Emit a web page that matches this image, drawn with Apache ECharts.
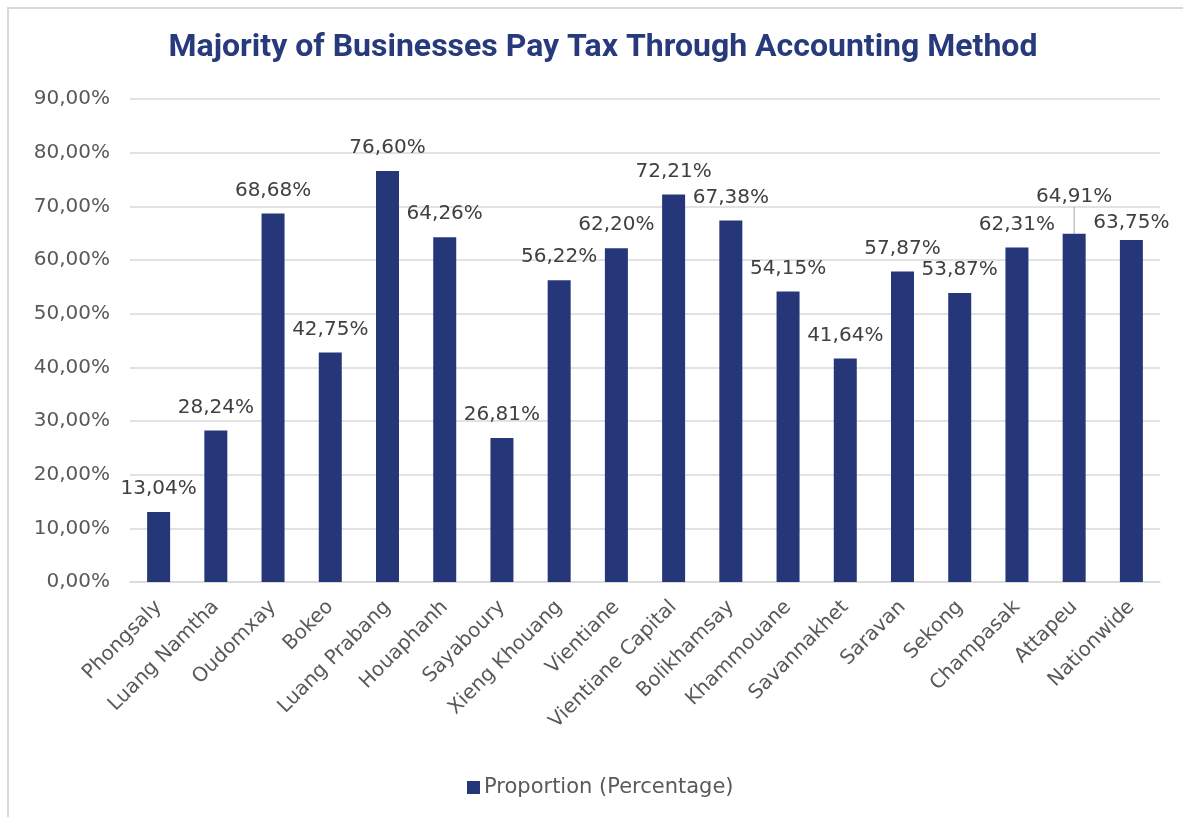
<!DOCTYPE html>
<html>
<head>
<meta charset="utf-8">
<script src="https://cdn.jsdelivr.net/npm/echarts@6/dist/echarts.min.js"></script>
<style>
html,body{margin:0;padding:0;background:#fff;}
#chart{width:1183px;height:817px;}
</style>
</head>
<body>
<div id="chart"></div>
<script>
const categories = ["Phongsaly","Luang Namtha","Oudomxay","Bokeo","Luang Prabang","Houaphanh","Sayaboury","Xieng Khouang","Vientiane","Vientiane Capital","Bolikhamsay","Khammouane","Savannakhet","Saravan","Sekong","Champasak","Attapeu","Nationwide"];
const proportion = [13.04,28.24,68.68,42.75,76.60,64.26,26.81,56.22,62.20,72.21,67.38,54.15,41.64,57.87,53.87,62.31,64.91,63.75];
const yTicks = [0,10,20,30,40,50,60,70,80,90];
const titleText = "Majority of Businesses Pay Tax Through Accounting Method";
const seriesName = "Proportion (Percentage)";

const fmt = v => v.toFixed(2).replace('.', ',') + '%';
const FONT = "DejaVu Sans";
const GREY = "#595959";
const NAVY = "#263779";

const chart = echarts.init(document.getElementById('chart'), null, {renderer:'canvas'});
const seriesData = proportion.map((v, i) => {
  if (i === 16) return {value: v, labelLine: {show: true, lineStyle: {color: '#a6a6a6', width: 1}}};
  return v;
});
chart.setOption({
  animation: false,
  backgroundColor: '#ffffff',
  title: {
    text: titleText,
    left: 598,
    textAlign: 'center',
    top: 27,
    textStyle: {fontFamily: 'Roboto', fontWeight: 'bold', fontSize: 32, color: '#273a7c'}
  },
  graphic: [
    {type: 'line', shape: {x1: 8, y1: 7, x2: 8, y2: 817}, style: {stroke: '#d9d9d9', lineWidth: 2}},
    {type: 'line', shape: {x1: 7, y1: 8, x2: 1183, y2: 8}, style: {stroke: '#d9d9d9', lineWidth: 2}}
  ],
  legend: {
    data: [seriesName],
    left: 462,
    top: 772,
    icon: 'rect',
    itemWidth: 13,
    itemHeight: 13,
    itemGap: 6,
    textStyle: {fontFamily: FONT, fontSize: 21, color: GREY, padding: [0,0,0,-1]}
  },
  grid: {left: 130, right: 23, top: 99, bottom: 235, containLabel: false},
  xAxis: {
    type: 'category',
    data: categories,
    boundaryGap: true,
    axisLine: {show: true, lineStyle: {color: '#d9d9d9', width: 1.5}},
    axisTick: {show: false},
    axisLabel: {rotate: 45, interval: 0, margin: 22, fontFamily: FONT, fontSize: 20, color: GREY}
  },
  yAxis: {
    type: 'value',
    min: yTicks[0],
    max: yTicks[yTicks.length - 1],
    interval: 10,
    axisLine: {show: false},
    axisTick: {show: false},
    splitLine: {lineStyle: {color: '#d9d9d9', width: 1.5}},
    axisLabel: {margin: 20, fontFamily: FONT, fontSize: 20, color: GREY, formatter: v => fmt(v)}
  },
  series: [{
    name: seriesName,
    type: 'bar',
    data: seriesData,
    barWidth: 23,
    itemStyle: {color: NAVY},
    label: {
      show: true,
      position: 'top',
      distance: 13,
      fontFamily: FONT,
      fontSize: 20,
      color: '#404040',
      formatter: p => fmt(p.value)
    },
    labelLayout: function (params) {
      if (params.dataIndex === 16) return {dy: -14};
      if (params.dataIndex === 17) return {dy: 6};
      return {};
    }
  }]
});
</script>
</body>
</html>
